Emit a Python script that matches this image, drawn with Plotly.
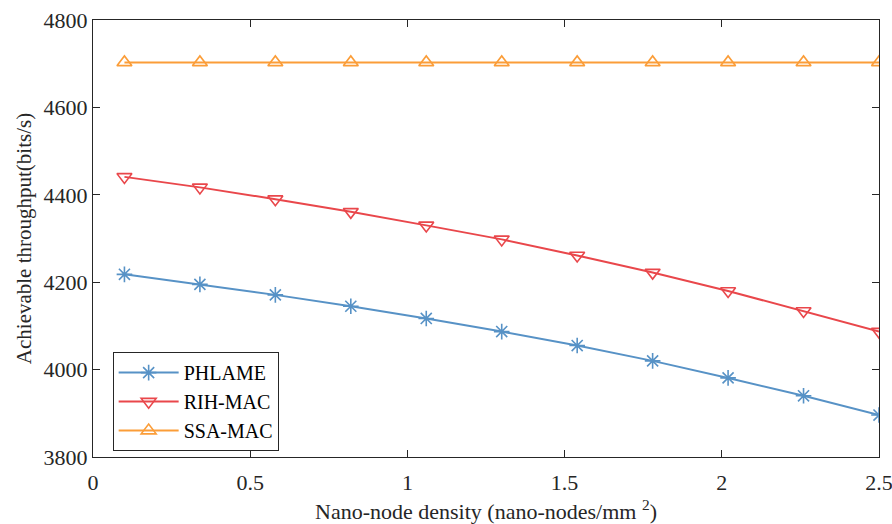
import plotly.graph_objects as go

density = [0.1, 0.34, 0.58, 0.82, 1.06, 1.30, 1.54, 1.78, 2.02, 2.26, 2.5]
phlame = [4218, 4195, 4171, 4145, 4117, 4087, 4055, 4020, 3981, 3940, 3896]
rih_mac = [4441, 4417, 4390, 4361, 4330, 4298, 4261, 4222, 4180, 4134, 4087]
ssa_mac = [4703] * 11

font = "Liberation Serif"

fig = go.Figure()
series = [
    ("PHLAME", phlame, "#5792c6", "asterisk-open"),
    ("RIH-MAC", rih_mac, "#e9474b", "triangle-down-open"),
    ("SSA-MAC", ssa_mac, "#fb9d38", "triangle-up-open"),
]
for name, ys, color, sym in series:
    fig.add_trace(go.Scatter(
        x=density, y=ys, name=name, mode="lines+markers",
        line=dict(color=color, width=2),
        marker=dict(symbol=sym, size=13, color=color, line=dict(color=color, width=1.6)),
    ))

axis_common = dict(
    showline=True, linecolor="#262626", linewidth=1, mirror="ticks",
    ticks="inside", ticklen=7, tickcolor="#262626", showgrid=False, zeroline=False,
    automargin=False, ticklabeloverflow="allow",
    tickfont=dict(family=font, size=22, color="#262626"),
)
fig.update_xaxes(range=[0, 2.5], tickvals=[0, 0.5, 1, 1.5, 2, 2.5],
                 ticktext=["0", "0.5", "1", "1.5", "2", "2.5"],
                 ticklabelstandoff=6,
                 title=dict(text="Nano-node density (nano-nodes/mm <sup>2</sup>)",
                            font=dict(family=font, size=22, color="#262626"), standoff=14),
                 **axis_common)
fig.update_yaxes(range=[3800, 4800], tickvals=[3800, 4000, 4200, 4400, 4600, 4800],
                 title=dict(text="Achievable throughput(bits/s)",
                            font=dict(family=font, size=21, color="#262626"), standoff=6),
                 **axis_common)

fig.update_layout(
    width=892, height=524,
    margin=dict(l=93, r=13, t=20, b=67),
    plot_bgcolor="white", paper_bgcolor="white",
    font=dict(family=font, size=22, color="#262626"),
    legend=dict(x=0.025, y=0.24, xanchor="left", yanchor="top",
                bordercolor="#262626", borderwidth=1, bgcolor="white",
                font=dict(family=font, size=20, color="#000000"),
                tracegroupgap=0, itemwidth=60),
    showlegend=True,
)

fig.write_html("out.html")
